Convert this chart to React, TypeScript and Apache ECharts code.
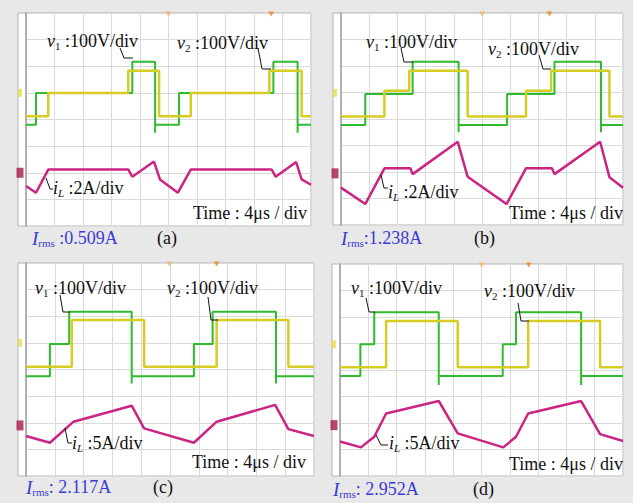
import React, { useEffect, useRef } from "react";
import * as echarts from "echarts";

// ---- data (divisions: x 0..10, y 0..8) ----
const greenA_t = [0, 0.35, 3.73, 4.53, 5.37, 8.68, 9.53, 10];
const greenA_v = [3.8, 5.0, 6.17, 3.8, 5.0, 6.17, 3.8];
const yellowA_t = [0, 0.78, 3.59, 4.67, 5.78, 8.54, 9.67, 10];
const yellowA_v = [4.12, 5.0, 5.83, 4.12, 5.0, 5.83, 4.12];
const iLA_t = [0, 0.35, 0.78, 3.59, 3.73, 4.49, 4.7, 5.33, 5.78, 8.62, 8.76, 9.48, 9.67, 10];
const iLA_v = [1.5, 1.25, 2.12, 2.12, 1.85, 2.42, 1.75, 1.25, 2.12, 2.12, 1.85, 2.4, 1.75, 1.55];

const greenB_t = [0, 0.86, 2.54, 4.17, 5.89, 7.57, 9.22, 10];
const greenB_v = [3.77, 4.94, 6.16, 3.77, 4.94, 6.16, 3.77];
const yellowB_t = [0, 1.54, 2.42, 4.49, 6.56, 7.45, 9.52, 10];
const yellowB_v = [4.09, 5.07, 5.82, 4.09, 5.07, 5.82, 4.09];
const iLB_t = [0, 0.86, 1.54, 2.46, 2.54, 4.14, 4.49, 5.87, 6.56, 7.48, 7.57, 9.19, 9.52, 10];
const iLB_v = [1.41, 0.79, 2.14, 2.14, 1.92, 3.14, 1.82, 0.79, 2.14, 2.14, 1.92, 3.14, 1.8, 1.41];

const greenC_t = [0, 0.83, 1.5, 3.67, 5.83, 6.48, 8.68, 10];
const greenC_v = [3.75, 4.96, 6.17, 3.75, 4.96, 6.17, 3.75];
const yellowC_t = [0, 1.59, 4.1, 6.62, 9.11, 10];
const yellowC_v = [4.1, 5.86, 4.1, 5.86, 4.1];
const iLC_t = [0, 0.83, 1.65, 3.67, 4.1, 5.83, 6.62, 8.65, 9.11, 10];
const iLC_v = [1.5, 1.25, 2.04, 2.64, 1.79, 1.25, 2.04, 2.67, 1.76, 1.5];

const greenD_t = [0, 0.72, 1.21, 3.49, 5.75, 6.22, 8.52, 10];
const greenD_v = [3.77, 4.97, 6.18, 3.77, 4.97, 6.18, 3.77];
const yellowD_t = [0, 1.63, 4.16, 6.65, 9.19, 10];
const yellowD_v = [4.1, 5.85, 4.1, 5.85, 4.1];
const iLD_t = [0, 0.74, 1.21, 1.63, 3.49, 4.16, 5.77, 6.22, 6.65, 8.52, 9.19, 10];
const iLD_v = [1.3, 1.08, 1.48, 2.36, 2.83, 1.61, 1.08, 1.48, 2.36, 2.83, 1.58, 1.32];

// brief undershoot level of v1 at its falling edges (divisions)
const greenUndershoot = [3.5, 3.5, 3.47, 3.43];

const triggerX = [
  [5.0, 8.6],
  [5.0, 7.39],
  [4.98, 6.62],
  [5.0, 6.67],
];
const ch1Ref = [5.0, 4.99, 5.0, 4.97];
const ch3Ref = [2.0, 1.95, 1.9, 1.92];

const irmsText = [" :0.509A", ":1.238A", ": 2.117A", ": 2.952A"];
const iLScale = ["2A/div", "2A/div", "5A/div", "5A/div"];
const tags = ["(a)", "(b)", "(c)", "(d)"];

// ---- layout ----
const GRIDS = [
  { left: 26, top: 13, width: 285, height: 213, boxX: 18 },
  { left: 341, top: 13, width: 282, height: 212, boxX: 333 },
  { left: 26, top: 263, width: 288, height: 213, boxX: 18 },
  { left: 340, top: 264, width: 283, height: 212, boxX: 332 },
];
const TEXTPOS = [
  { v1: [47, 41], v2: [177, 43], iL: [53, 188], time: [193, 213], irms: [32, 238], tag: [157, 238] },
  { v1: [366, 42], v2: [488, 49], iL: [388, 192], time: [509, 213], irms: [341, 238], tag: [474, 238] },
  { v1: [35, 288], v2: [167, 288], iL: [72, 443], time: [192, 462], irms: [26, 487], tag: [153, 487] },
  { v1: [351, 288], v2: [484, 291], iL: [389, 443], time: [509, 464], irms: [333, 489], tag: [473, 489] },
];
const LEADERS = [
  [[[120, 48], [124, 58], [133, 58]], [[258, 48], [262, 69], [271, 69]], [[46, 178], [50, 189], [53, 189]]],
  [[[401, 48], [404, 62], [413, 62]], [[539, 55], [543, 69], [551, 69]], [[381, 175], [384, 188], [388, 188]]],
  [[[60, 295], [63, 312], [70, 312]], [[208, 297], [211, 320], [218, 320]], [[65, 428], [68, 443], [72, 443]]],
  [[[366, 298], [369, 312], [375, 312]], [[518, 303], [521, 321], [529, 321]], [[376, 435], [381, 445], [388, 445]]],
];

const steps = (t: number[], v: number[], under?: number) => {
  const pts: number[][] = [];
  for (let i = 0; i < v.length; i++) {
    if (under !== undefined && i > 0 && v[i] < v[i - 1]) {
      pts.push([t[i], under]);
    }
    pts.push([t[i], v[i]], [t[i + 1], v[i]]);
  }
  return pts;
};
const poly = (t: number[], v: number[]) => t.map((x, i) => [x, v[i]]);

const PANEL_DATA = [
  { g: [greenA_t, greenA_v], y: [yellowA_t, yellowA_v], i: [iLA_t, iLA_v] },
  { g: [greenB_t, greenB_v], y: [yellowB_t, yellowB_v], i: [iLB_t, iLB_v] },
  { g: [greenC_t, greenC_v], y: [yellowC_t, yellowC_v], i: [iLC_t, iLC_v] },
  { g: [greenD_t, greenD_v], y: [yellowD_t, yellowD_v], i: [iLD_t, iLD_v] },
];

const FAM = "Liberation Serif";
const f = (size: number, italic = false) => `${italic ? "italic " : ""}${size}px "${FAM}", serif`;
const GREEN = "#2fba2f";
const YELLOW = "#d6cc24";
const MAGENTA = "#cc2482";
const BLUE = "#3a3ad6";

export default function App() {
  const ref = useRef<HTMLDivElement>(null);
  useEffect(() => {
    if (!ref.current) return;
    const chart = echarts.init(ref.current, undefined, { renderer: "svg" });

    const grid = GRIDS.map((g) => ({ left: g.left, top: g.top, width: g.width, height: g.height }));
    const xAxis = GRIDS.map((_, k) => ({
      type: "value",
      gridIndex: k,
      min: 0,
      max: 10,
      interval: 1,
      axisLine: { show: false },
      axisTick: { show: false },
      axisLabel: { show: false },
      splitLine: { show: true, lineStyle: { color: "#dadada", width: 1 } },
    }));
    const yAxis = GRIDS.map((_, k) => ({
      type: "value",
      gridIndex: k,
      min: 0,
      max: 8,
      interval: 1,
      axisLine: { show: true, lineStyle: { color: "#9c9c9c", width: 1.5 } },
      axisTick: { show: false },
      axisLabel: { show: false },
      splitLine: { show: true, lineStyle: { color: "#dadada", width: 1 } },
    }));

    const series: any[] = [];
    PANEL_DATA.forEach((p, k) => {
      series.push({
        type: "line",
        xAxisIndex: k,
        yAxisIndex: k,
        data: steps(p.g[0], p.g[1], greenUndershoot[k]),
        symbol: "none",
        lineStyle: { color: GREEN, width: 2 },
        z: 3,
      });
      series.push({
        type: "line",
        xAxisIndex: k,
        yAxisIndex: k,
        data: steps(p.y[0], p.y[1]),
        symbol: "none",
        lineStyle: { color: YELLOW, width: 2.5 },
        z: 4,
      });
      series.push({
        type: "line",
        xAxisIndex: k,
        yAxisIndex: k,
        data: poly(p.i[0], p.i[1]),
        symbol: "none",
        lineStyle: { color: MAGENTA, width: 2.5 },
        z: 5,
      });
      series.push({
        type: "scatter",
        xAxisIndex: k,
        yAxisIndex: k,
        clip: false,
        data: [
          { value: [triggerX[k][0], 8], itemStyle: { color: "#f2b46a" } },
          { value: [triggerX[k][1], 8], itemStyle: { color: "#e8891f" } },
        ],
        symbol: "triangle",
        symbolRotate: 180,
        symbolSize: [6, 5],
        symbolOffset: [0, 1],
        z: 6,
      });
      series.push({
        type: "scatter",
        xAxisIndex: k,
        yAxisIndex: k,
        clip: false,
        data: [
          { value: [0, ch3Ref[k]], itemStyle: { color: "#a8184e" }, symbolSize: [7, 10] },
          { value: [0, ch1Ref[k]], itemStyle: { color: "#e4df4a" }, symbolSize: [4, 8] },
        ],
        symbol: "rect",
        symbolOffset: [-6, 0],
        z: 6,
      });
    });

    const graphic: any[] = [];
    GRIDS.forEach((g, k) => {
      graphic.push({
        type: "rect",
        z: -10,
        silent: true,
        shape: { x: g.boxX, y: g.top, width: g.left + g.width - g.boxX, height: g.height },
        style: { fill: "#ffffff", stroke: "#b4b4b4", lineWidth: 1 },
      });
      LEADERS[k].forEach((pts) => {
        graphic.push({
          type: "polyline",
          z: 10,
          silent: true,
          shape: { points: pts },
          style: { stroke: "#111", lineWidth: 1, fill: "none" },
        });
      });
      const tp = TEXTPOS[k];
      const rich = {
        it: { font: f(18, true), fill: "#111" },
        sub: { font: f(11), fill: "#111", padding: [9, 0, 0, 0] },
        subi: { font: f(11, true), fill: "#111", padding: [9, 0, 0, 0] },
        n: { font: f(18), fill: "#111" },
        bi: { font: f(19, true), fill: BLUE },
        bsub: { font: f(11), fill: BLUE, padding: [9, 0, 0, 0] },
        bn: { font: f(18), fill: BLUE },
      };
      const mk = (pos: number[], text: string) => ({
        type: "text",
        z: 11,
        silent: true,
        style: {
          x: pos[0],
          y: pos[1],
          text,
          rich,
          font: f(18),
          fill: "#111",
          verticalAlign: "middle",
          align: "left",
        },
      });
      graphic.push(mk(tp.v1, "{it|v}{sub|1}{n| :100V/div}"));
      graphic.push(mk(tp.v2, "{it|v}{sub|2}{n| :100V/div}"));
      graphic.push(mk(tp.iL, "{it|i}{subi|L}{n| :" + iLScale[k] + "}"));
      graphic.push(mk(tp.time, "{n|Time : 4μs / div}"));
      graphic.push(mk(tp.irms, "{bi|I}{bsub|rms}{bn|" + irmsText[k] + "}"));
      graphic.push(mk(tp.tag, "{n|" + tags[k] + "}"));
    });

    chart.setOption({
      animation: false,
      backgroundColor: "#e8e8e8",
      grid,
      xAxis,
      yAxis,
      series,
      graphic: { elements: graphic },
    });
    return () => chart.dispose();
  }, []);
  return (
    <div
      ref={ref}
      style={{ position: "absolute", left: 0, top: 0, width: 633, height: 503 }}
    />
  );
}
